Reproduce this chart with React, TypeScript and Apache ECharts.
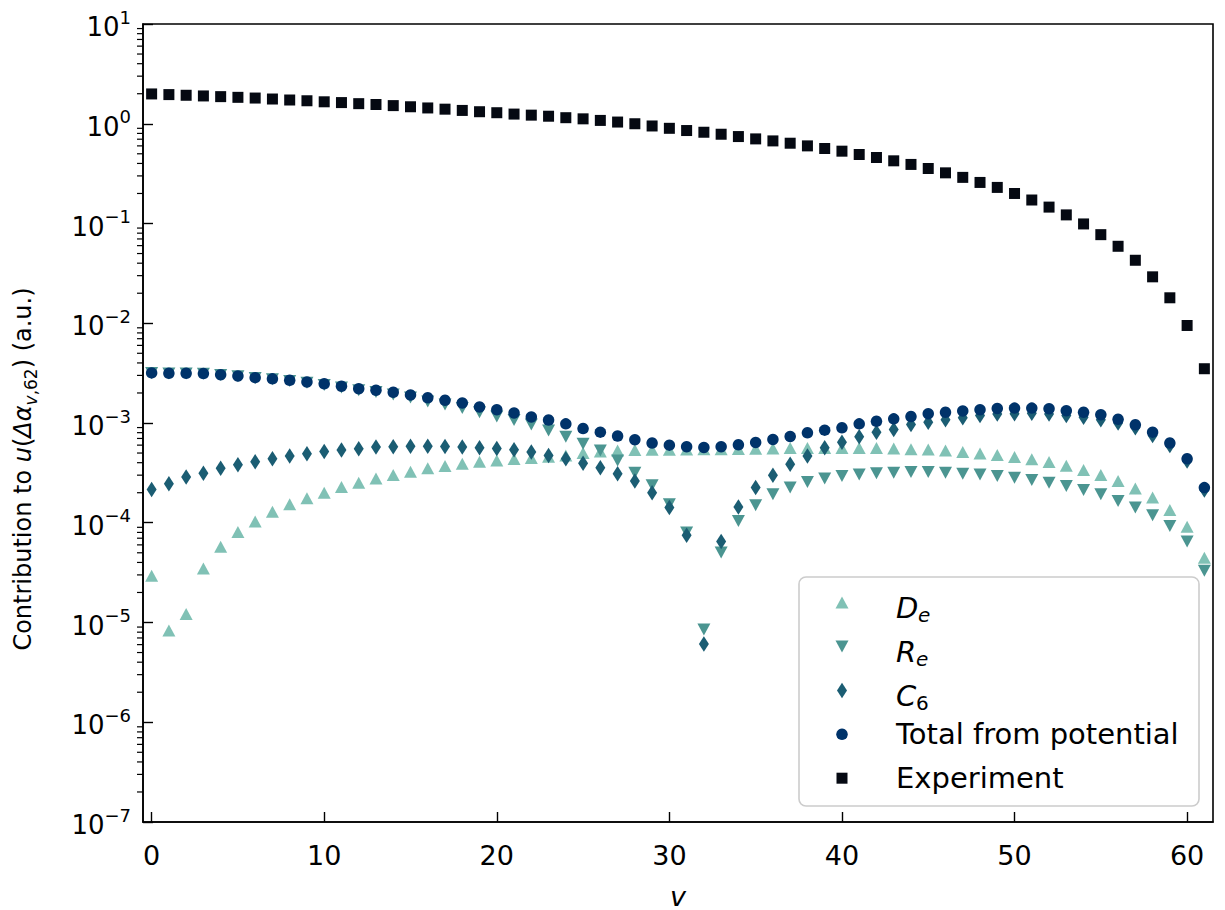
import React, { useEffect, useRef } from "react";
import * as echarts from "echarts";

// ---------------- data ----------------
const V = [0, 1, 2, 3, 4, 5, 6, 7, 8, 9, 10, 11, 12, 13, 14, 15, 16, 17, 18, 19, 20,
  21, 22, 23, 24, 25, 26, 27, 28, 29, 30, 31, 32, 33, 34, 35, 36, 37, 38, 39, 40,
  41, 42, 43, 44, 45, 46, 47, 48, 49, 50, 51, 52, 53, 54, 55, 56, 57, 58, 59, 60, 61];

const DE = [2.94e-5, 8.3e-6, 1.22e-5, 3.48e-5, 5.73e-5, 8.1e-5, 1.03e-4, 1.29e-4, 1.53e-4, 1.76e-4,
  2.0e-4, 2.28e-4, 2.52e-4, 2.77e-4, 3.01e-4, 3.25e-4, 3.51e-4, 3.7e-4, 3.91e-4, 4.09e-4,
  4.22e-4, 4.35e-4, 4.45e-4, 4.59e-4, 4.73e-4, 5.0e-4, 5.17e-4, 5.3e-4, 5.35e-4, 5.38e-4,
  5.4e-4, 5.42e-4, 5.45e-4, 5.47e-4, 5.5e-4, 5.53e-4, 5.56e-4, 5.6e-4, 5.62e-4, 5.63e-4,
  5.63e-4, 5.6e-4, 5.6e-4, 5.56e-4, 5.47e-4, 5.43e-4, 5.31e-4, 5.11e-4, 4.95e-4, 4.77e-4,
  4.55e-4, 4.32e-4, 4.06e-4, 3.73e-4, 3.38e-4, 3.01e-4, 2.62e-4, 2.2e-4, 1.79e-4, 1.34e-4,
  9.1e-5, 4.45e-5];

const RE = [3.17e-3, 3.14e-3, 3.14e-3, 3.11e-3, 3.03e-3, 2.94e-3, 2.83e-3, 2.74e-3, 2.64e-3, 2.53e-3,
  2.41e-3, 2.27e-3, 2.13e-3, 2.04e-3, 1.93e-3, 1.8e-3, 1.64e-3, 1.53e-3, 1.41e-3, 1.28e-3,
  1.16e-3, 1.07e-3, 9.66e-4, 8.41e-4, 7.28e-4, 6.2e-4, 5.31e-4, 4.22e-4, 3.18e-4, 2.37e-4,
  1.53e-4, 7.97e-5, 8.5e-6, 5.03e-5, 1.04e-4, 1.5e-4, 1.93e-4, 2.25e-4, 2.56e-4, 2.77e-4,
  2.94e-4, 3.05e-4, 3.13e-4, 3.18e-4, 3.22e-4, 3.22e-4, 3.18e-4, 3.1e-4, 3.05e-4, 2.94e-4,
  2.83e-4, 2.68e-4, 2.52e-4, 2.33e-4, 2.13e-4, 1.93e-4, 1.65e-4, 1.42e-4, 1.19e-4, 9.3e-5,
  6.5e-5, 3.3e-5];

const C6 = [2.16e-4, 2.46e-4, 2.87e-4, 3.13e-4, 3.51e-4, 3.82e-4, 4.09e-4, 4.38e-4, 4.66e-4, 4.92e-4,
  5.19e-4, 5.35e-4, 5.52e-4, 5.73e-4, 5.78e-4, 5.86e-4, 5.86e-4, 5.82e-4, 5.73e-4, 5.65e-4,
  5.56e-4, 5.4e-4, 5.11e-4, 4.73e-4, 4.38e-4, 3.94e-4, 3.56e-4, 3.1e-4, 2.62e-4, 2.0e-4,
  1.42e-4, 7.5e-5, 6.1e-6, 6.5e-5, 1.44e-4, 2.25e-4, 2.99e-4, 3.85e-4, 4.66e-4, 5.65e-4,
  6.43e-4, 7.28e-4, 8.1e-4, 8.6e-4, 9.66e-4, 1.02e-3, 1.08e-3, 1.13e-3, 1.19e-3, 1.23e-3,
  1.24e-3, 1.25e-3, 1.23e-3, 1.19e-3, 1.14e-3, 1.08e-3, 1.0e-3, 8.95e-4, 7.5e-4, 5.96e-4,
  4.15e-4, 2.13e-4];

const TOTAL = [3.18e-3, 3.15e-3, 3.15e-3, 3.13e-3, 3.05e-3, 2.96e-3, 2.85e-3, 2.77e-3, 2.68e-3, 2.58e-3,
  2.47e-3, 2.34e-3, 2.21e-3, 2.13e-3, 2.03e-3, 1.91e-3, 1.79e-3, 1.69e-3, 1.59e-3, 1.45e-3,
  1.36e-3, 1.26e-3, 1.15e-3, 1.07e-3, 9.8e-4, 8.8e-4, 8.1e-4, 7.4e-4, 6.8e-4, 6.3e-4,
  6.0e-4, 5.78e-4, 5.69e-4, 5.78e-4, 6.05e-4, 6.38e-4, 6.84e-4, 7.33e-4, 7.97e-4, 8.48e-4,
  8.95e-4, 9.8e-4, 1.04e-3, 1.1e-3, 1.16e-3, 1.24e-3, 1.28e-3, 1.32e-3, 1.36e-3, 1.4e-3,
  1.41e-3, 1.41e-3, 1.39e-3, 1.33e-3, 1.28e-3, 1.21e-3, 1.09e-3, 9.6e-4, 8.1e-4, 6.3e-4,
  4.38e-4, 2.25e-4];

const EXPERIMENT = [1.99, 1.96, 1.93, 1.9, 1.87, 1.84, 1.81, 1.77, 1.73, 1.7,
  1.66, 1.63, 1.59, 1.56, 1.52, 1.48, 1.44, 1.4, 1.36, 1.32,
  1.29, 1.25, 1.22, 1.19, 1.15, 1.12, 1.08, 1.04, 1.0, 0.95,
  0.9, 0.855, 0.822, 0.785, 0.744, 0.705, 0.673, 0.638, 0.6, 0.565,
  0.531, 0.492, 0.459, 0.425, 0.391, 0.356, 0.322, 0.29, 0.258, 0.23,
  0.2, 0.172, 0.146, 0.122, 0.099, 0.0773, 0.0591, 0.0428, 0.0292, 0.018,
  0.0095, 0.0035];

const X_TICKS = [0, 10, 20, 30, 40, 50, 60];
const Y_DECADES = [1e-7, 1e-6, 1e-5, 1e-4, 1e-3, 1e-2, 1e-1, 1, 10];
const MINOR_MULT = [2, 3, 4, 5, 6, 7, 8, 9];

const SERIES_NAMES = ["D_e", "R_e", "C_6", "Total from potential", "Experiment"];

// ---------------- styles ----------------
const FONT = "'DejaVu Sans', sans-serif";
const COL_DE = "#80c1b5";
const COL_RE = "#4b9591";
const COL_C6 = "#1b5d73";
const COL_TOT = "#00336a";
const COL_EXP = "#050912";
const TRI_DOWN = "path://M0,0L2,0L1,2Z";
const X_MIN = -0.5;
const X_MAX = 61.5;

const MINOR_VALUES: number[] = [];
Y_DECADES.slice(0, -1).forEach((d) =>
  MINOR_MULT.forEach((m) => MINOR_VALUES.push(Number((d * m).toPrecision(3))))
);

function supLabel(value: number) {
  const e = Math.round(Math.log10(value));
  const s = e < 0 ? "\u2212" + Math.abs(e) : String(e);
  return "{b|10}{s|" + s + "}";
}

function pairs(ys: number[]) {
  return V.map((v, i) => [v, ys[i]]);
}

export default function App() {
  const ref = useRef<HTMLDivElement | null>(null);

  useEffect(() => {
    if (!ref.current) return;
    const chart = echarts.init(ref.current, undefined, { renderer: "svg" });

    const LX = 799, LY = 577, LW = 400, LH = 229;
    const MX = 842;
    const rowY = [602.5, 646.5, 690.5, 734.3, 778.2];
    const legendZ = 100;

    const legendGraphics: any[] = [
      {
        type: "rect",
        z: legendZ,
        shape: { x: LX, y: LY, width: LW, height: LH, r: 7 },
        style: { fill: "rgba(255,255,255,0.8)", stroke: "#cccccc", lineWidth: 1.6 },
      },
      {
        type: "polygon",
        z: legendZ,
        shape: { points: [[MX, rowY[0] - 6], [MX - 6.5, rowY[0] + 6], [MX + 6.5, rowY[0] + 6]] },
        style: { fill: COL_DE },
      },
      {
        type: "polygon",
        z: legendZ,
        shape: { points: [[MX - 6.5, rowY[1] - 6], [MX + 6.5, rowY[1] - 6], [MX, rowY[1] + 6]] },
        style: { fill: COL_RE },
      },
      {
        type: "polygon",
        z: legendZ,
        shape: { points: [[MX, rowY[2] - 7.75], [MX + 5, rowY[2]], [MX, rowY[2] + 7.75], [MX - 5, rowY[2]]] },
        style: { fill: COL_C6 },
      },
      {
        type: "circle",
        z: legendZ,
        shape: { cx: MX, cy: rowY[3], r: 5.75 },
        style: { fill: COL_TOT },
      },
      {
        type: "rect",
        z: legendZ,
        shape: { x: MX - 5.5, y: rowY[4] - 5.5, width: 11, height: 11 },
        style: { fill: COL_EXP },
      },
    ];

    const TX = 896;
    const mathRows = [
      { base: "D", sub: "e", subItalic: true, subX: 918 },
      { base: "R", sub: "e", subItalic: true, subX: 916 },
      { base: "C", sub: "6", subItalic: false, subX: 916 },
    ];
    mathRows.forEach((r, i) => {
      legendGraphics.push({
        type: "text",
        z: legendZ,
        x: TX,
        y: rowY[i] + 5,
        style: {
          text: r.base,
          font: "italic 29px " + FONT,
          fill: "#000",
          align: "left",
          verticalAlign: "middle",
        },
      });
      legendGraphics.push({
        type: "text",
        z: legendZ,
        x: r.subX,
        y: rowY[i] + 12,
        style: {
          text: r.sub,
          font: (r.subItalic ? "italic " : "") + "20px " + FONT,
          fill: "#000",
          align: "left",
          verticalAlign: "middle",
        },
      });
    });
    [SERIES_NAMES[3], SERIES_NAMES[4]].forEach((name, k) => {
      legendGraphics.push({
        type: "text",
        z: legendZ,
        x: TX,
        y: rowY[3 + k],
        style: {
          text: name,
          font: "29px " + FONT,
          fill: "#000",
          align: "left",
          verticalAlign: "middle",
        },
      });
    });

    const option: any = {
      animation: false,
      backgroundColor: "#ffffff",
      grid: {
        left: 143,
        top: 24,
        width: 1070,
        height: 798,
        show: true,
        borderColor: "#000",
        borderWidth: 1.6,
        backgroundColor: "transparent",
        containLabel: false,
      },
      xAxis: {
        type: "value",
        min: X_MIN,
        max: X_MAX,
        axisLine: { show: true, onZero: false, lineStyle: { color: "#000", width: 1.6 } },
        axisTick: {
          show: true,
          inside: true,
          length: 10,
          lineStyle: { color: "#000", width: 1.4 },
          customValues: X_TICKS,
        },
        axisLabel: {
          customValues: X_TICKS,
          fontSize: 27,
          fontFamily: FONT,
          color: "#000",
          margin: 20,
        },
        splitLine: { show: false },
      },
      yAxis: {
        type: "log",
        logBase: 10,
        min: 1e-7,
        max: 10,
        splitNumber: 8,
        axisLine: { show: true, onZero: false, lineStyle: { color: "#000", width: 1.6 } },
        axisTick: { show: true, inside: true, length: 10, lineStyle: { color: "#000", width: 1.4 } },
        axisLabel: {
          margin: 12,
          color: "#000",
          formatter: (v: number) => supLabel(v),
          rich: {
            b: { fontSize: 26, fontFamily: FONT, color: "#000", verticalAlign: "bottom" },
            s: {
              fontSize: 18,
              fontFamily: FONT,
              color: "#000",
              verticalAlign: "bottom",
              padding: [0, 0, 14, 0],
            },
          },
        },
        splitLine: { show: false },
      },
      graphic: [
        ...legendGraphics,
        {
          type: "text",
          x: 25,
          y: 469,
          rotation: Math.PI / 2,
          style: {
            text:
              "{n|Contribution to }{i|u}{n|(}{i|\u0394\u03b1}{si|v}{s|,62}{n|) (a.u.)}",
            align: "center",
            verticalAlign: "middle",
            fill: "#000",
            rich: {
              n: { fontSize: 24, fontFamily: FONT, verticalAlign: "top" },
              i: { fontSize: 24, fontFamily: FONT, fontStyle: "italic", verticalAlign: "top" },
              si: {
                fontSize: 17,
                fontFamily: FONT,
                fontStyle: "italic",
                verticalAlign: "top",
                padding: [11, 0, 0, 0],
              },
              s: { fontSize: 17, fontFamily: FONT, verticalAlign: "top", padding: [11, 0, 0, 0] },
            },
          },
        },
        {
          type: "text",
          x: 678,
          y: 896,
          style: {
            text: "v",
            font: "italic 27px " + FONT,
            fill: "#000",
            align: "center",
            verticalAlign: "middle",
          },
        },
      ],
      series: [
        {
          name: SERIES_NAMES[0],
          type: "scatter",
          data: pairs(DE),
          symbol: "triangle",
          symbolSize: [13, 12],
          itemStyle: { color: COL_DE, opacity: 1 },
          silent: true,
        },
        {
          name: SERIES_NAMES[1],
          type: "scatter",
          data: pairs(RE),
          symbol: TRI_DOWN,
          symbolSize: [13, 12],
          itemStyle: { color: COL_RE, opacity: 1 },
          silent: true,
        },
        {
          name: SERIES_NAMES[2],
          type: "scatter",
          data: pairs(C6),
          symbol: "diamond",
          symbolSize: [10, 15.5],
          itemStyle: { color: COL_C6, opacity: 1 },
          silent: true,
        },
        {
          name: SERIES_NAMES[3],
          type: "scatter",
          data: pairs(TOTAL),
          symbol: "circle",
          symbolSize: 11.5,
          itemStyle: { color: COL_TOT, opacity: 1 },
          silent: true,
        },
        {
          name: SERIES_NAMES[4],
          type: "scatter",
          data: pairs(EXPERIMENT),
          symbol: "rect",
          symbolSize: 11,
          itemStyle: { color: COL_EXP, opacity: 1 },
          silent: true,
        },
        {
          name: "minor-ticks",
          type: "custom",
          silent: true,
          clip: false,
          data: MINOR_VALUES.map((v) => [X_MIN, v]),
          renderItem: (_params: any, api: any) => {
            const p = api.coord([api.value(0), api.value(1)]);
            return {
              type: "line",
              shape: { x1: p[0], y1: p[1], x2: p[0] - 6, y2: p[1] },
              style: { stroke: "#000", lineWidth: 1.2 },
            };
          },
        },
      ],
    };

    chart.setOption(option);
    return () => {
      chart.dispose();
    };
  }, []);

  return (
    <div
      ref={ref}
      style={{ position: "fixed", left: 0, top: 0, width: 1225, height: 910, background: "#fff" }}
    />
  );
}
